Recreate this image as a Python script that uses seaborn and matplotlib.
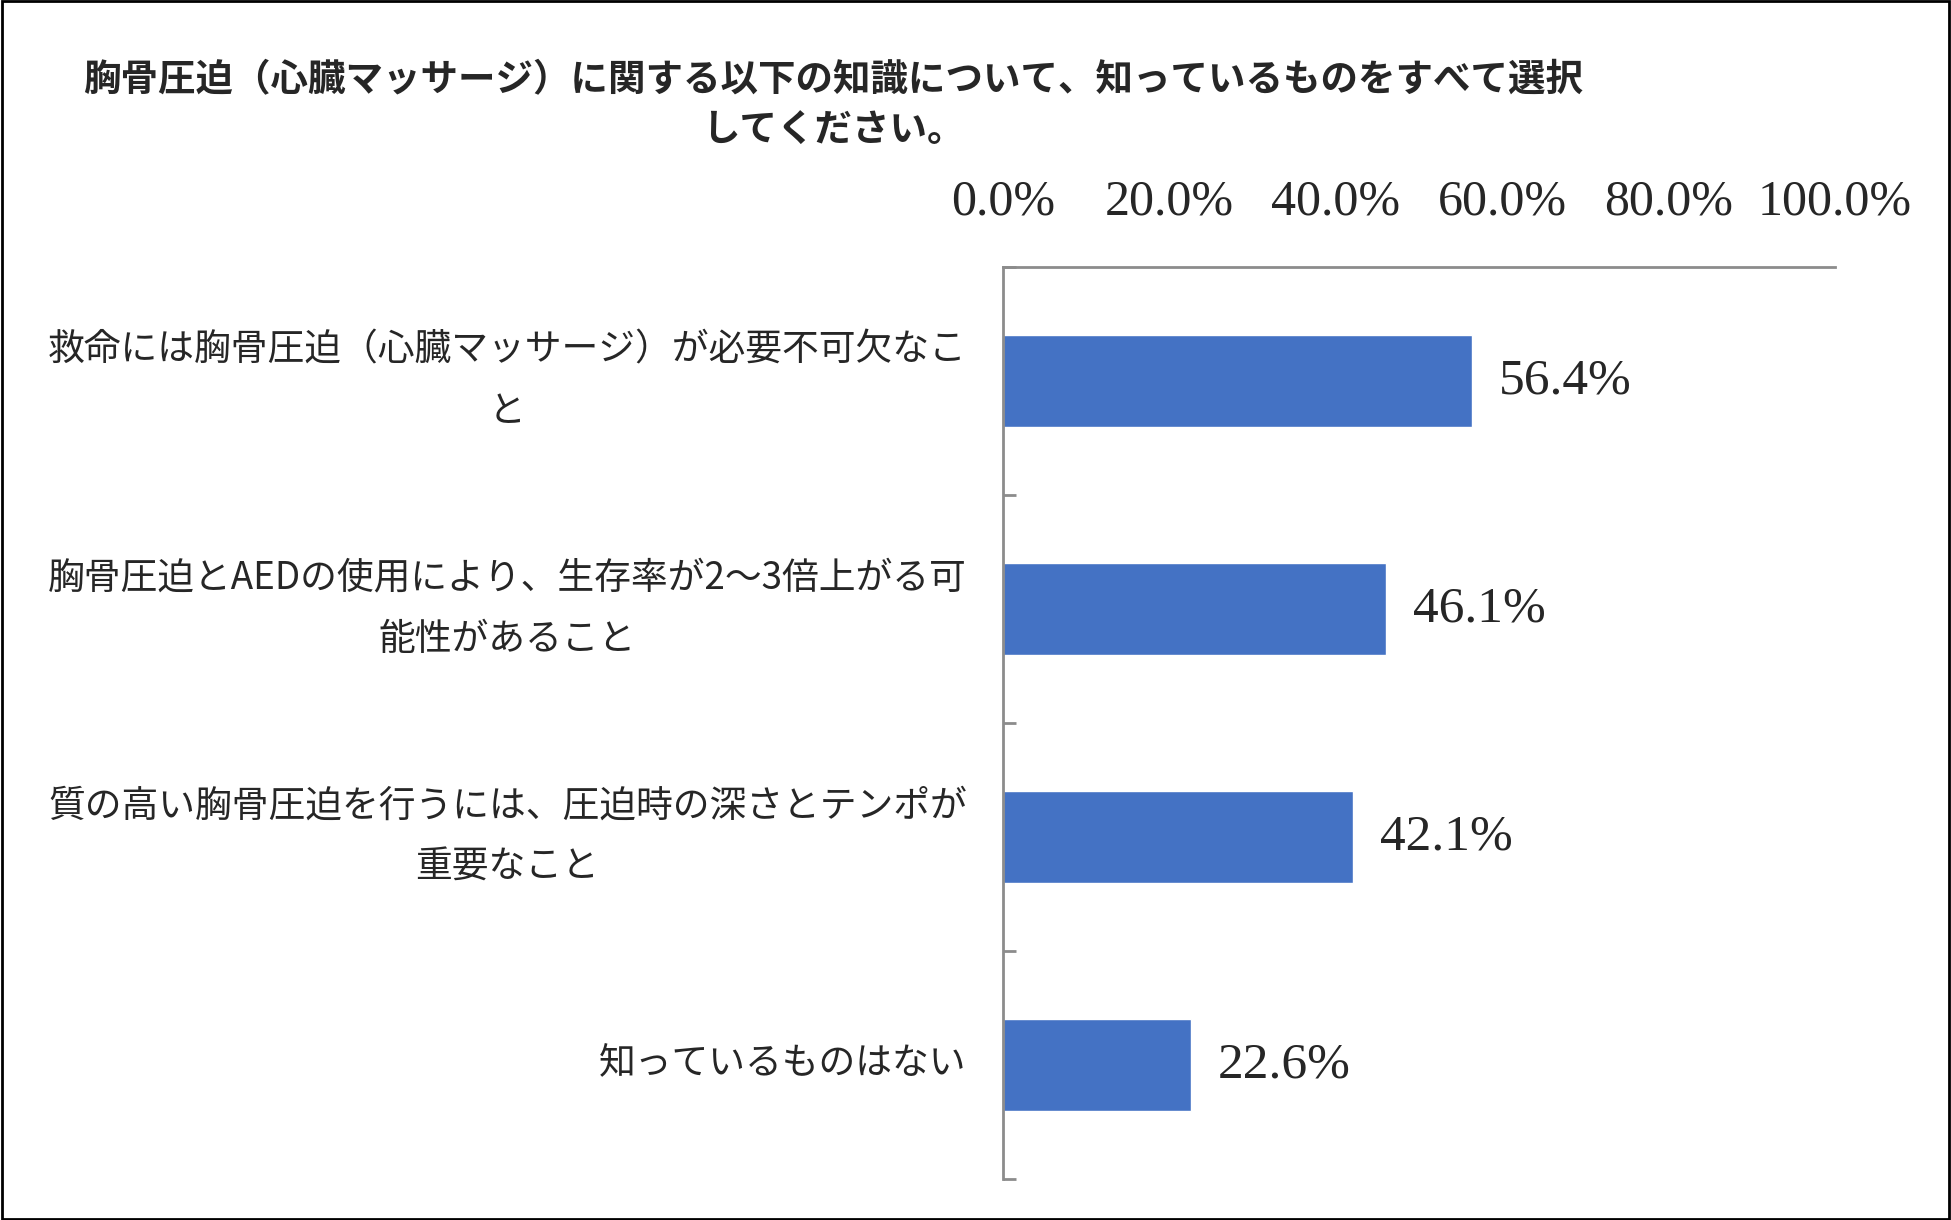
import matplotlib
matplotlib.use("Agg")
import matplotlib.pyplot as plt
import matplotlib.transforms as mtransforms
import seaborn as sns
import pandas as pd
from matplotlib.ticker import FuncFormatter
from matplotlib.patches import Rectangle

# data
categories = [
    "救命には胸骨圧迫（心臓マッサージ）が必要不可欠なこ\nと",
    "胸骨圧迫とAEDの使用により、生存率が2〜3倍上がる可\n能性があること",
    "質の高い胸骨圧迫を行うには、圧迫時の深さとテンポが\n重要なこと",
    "知っているものはない",
]
values = [56.4, 46.1, 42.1, 22.6]
xticks = [0, 20, 40, 60, 80, 100]
title = "胸骨圧迫（心臓マッサージ）に関する以下の知識について、知っているものをすべて選択\nしてください。"

sns.set_style("white")
plt.rcParams['font.family'] = ['Noto Sans CJK JP', 'DejaVu Sans']

df = pd.DataFrame({"item": categories, "pct": values})

fig = plt.figure(figsize=(19.51, 12.20), dpi=100)
ax = fig.add_axes([0.514, 0.0336, 0.4265, 0.7475])

bar_color = "#4472C4"
grey = "#8C8C8C"
sns.barplot(data=df, x="pct", y="item", orient="h", color=bar_color,
            width=0.4, saturation=1, ax=ax)

ax.set_xlim(0, 100)
ax.set_xlabel("")
ax.set_ylabel("")

# x axis on top, no tick marks
ax.xaxis.tick_top()
ax.set_xticks(xticks)
ax.xaxis.set_major_formatter(FuncFormatter(lambda v, p: f"{v:.1f}%"))
ax.tick_params(axis="x", length=0, pad=30, labelsize=36)
for t in ax.get_xticklabels():
    t.set_family(["Liberation Serif"])

# y axis: labels at centres, tick marks between categories
ax.tick_params(axis="y", which="major", left=True, length=0, pad=26,
               labelsize=26.5)
ax.set_yticks([-0.5, 0.5, 1.5, 2.5, 3.5], minor=True)
ax.tick_params(axis="y", which="minor", left=True, direction="in",
               length=9, width=2, color=grey)
for t in ax.get_yticklabels():
    t.set_multialignment("center")
    t.set_linespacing(1.75)
    n_extra = t.get_text().count("\n")
    shift = mtransforms.ScaledTranslation(0, (6 + 10 * n_extra) / 100,
                                          fig.dpi_scale_trans)
    t.set_transform(t.get_transform() + shift)

for s in ["right", "bottom"]:
    ax.spines[s].set_visible(False)
for s in ["top", "left"]:
    ax.spines[s].set_color(grey)
    ax.spines[s].set_linewidth(2)

ax.bar_label(ax.containers[0], labels=[f"{v:.1f}%" for v in values],
             padding=19, fontsize=37, family=["Liberation Serif"])

fig.text(0.427, 0.914, title, ha="center", va="center", fontsize=27,
         fontweight="bold", linespacing=1.35)

fig.patches.append(Rectangle((0.0008, 0.0012), 0.9984, 0.9976,
                             transform=fig.transFigure, fill=False,
                             edgecolor="black", linewidth=2))

fig.savefig("out.png", dpi=100)
